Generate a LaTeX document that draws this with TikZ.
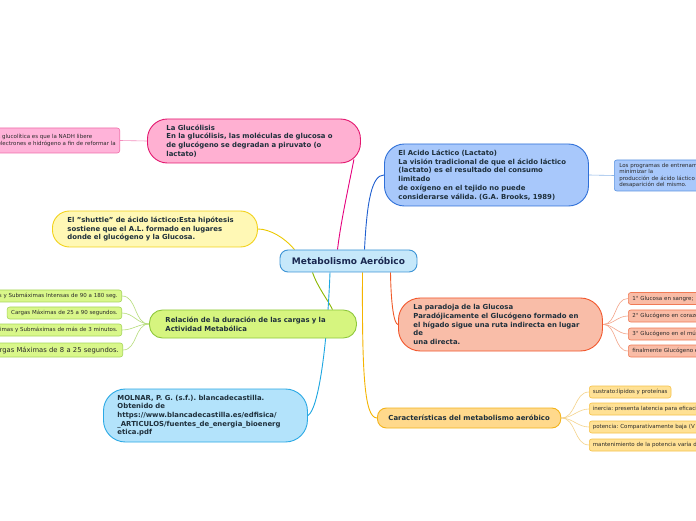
\documentclass[tikz,border=0pt]{standalone}
\usepackage{fontspec}
\setmainfont{DejaVu Sans}
\usepackage{tikz}
\usetikzlibrary{positioning, backgrounds}
\hyphenpenalty=10000
\frenchspacing

\definecolor{txtdark}{HTML}{1E2F3B}
\definecolor{txtleaf}{HTML}{2A2A2A}
\definecolor{roottxt}{HTML}{1A2850}
\definecolor{rootfill}{HTML}{C6E8FA}
\definecolor{rootdraw}{HTML}{3D94D6}
\definecolor{glucfill}{HTML}{FFB0D2}
\definecolor{glucdraw}{HTML}{E3176F}
\definecolor{nadhfill}{HTML}{FFB3D9}
\definecolor{nadhdraw}{HTML}{F06EAA}
\definecolor{shutfill}{HTML}{FFF8B5}
\definecolor{shutdraw}{HTML}{F2D21B}
\definecolor{relfill}{HTML}{D6F57F}
\definecolor{reldraw}{HTML}{8FC83C}
\definecolor{grnfill}{HTML}{D9F78A}
\definecolor{grndraw}{HTML}{A6D65A}
\definecolor{molfill}{HTML}{B3E3FB}
\definecolor{moldraw}{HTML}{2BA9E5}
\definecolor{lacfill}{HTML}{A8C8FB}
\definecolor{lacdraw}{HTML}{2F70D8}
\definecolor{progdraw}{HTML}{5B93E0}
\definecolor{parfill}{HTML}{F9BDA8}
\definecolor{pardraw}{HTML}{F2572C}
\definecolor{salfill}{HTML}{F9BCA6}
\definecolor{saldraw}{HTML}{F07A55}
\definecolor{carfill}{HTML}{FFD98C}
\definecolor{cardraw}{HTML}{F3B41B}
\definecolor{ylwfill}{HTML}{FFE195}
\definecolor{ylwdraw}{HTML}{F6C24A}

\begin{document}
\begin{tikzpicture}[x=1pt, y=1pt,
    topic/.style={draw, line width=0.9pt, align=left, text=txtdark, inner ysep=0pt, anchor=west,
      font=\bfseries\fontsize{6.9}{8.7}\selectfont},
    leaf/.style={draw, line width=0.6pt, rounded corners=2.5pt, align=left, text=txtleaf,
      inner xsep=4pt, inner ysep=0pt, minimum height=12pt, font=\fontsize{5.5}{6.6}\selectfont},
    branch/.style={line width=0.9pt},
    twig/.style={line width=0.6pt}]

    \path[use as bounding box, clip] (0,0) rectangle (696,520);

    % Central topic
    \node[draw=rootdraw, fill=rootfill, line width=0.9pt, rounded corners=8pt,
          minimum width=137pt, minimum height=22pt, text=roottxt,
          font=\bfseries\fontsize{9}{10}\selectfont] (root) at (348.5,259) {Metabolismo Aeróbico};

    % La Glucolisis
    \node[topic, draw=glucdraw, fill=glucfill, rounded corners=20pt, text width=175pt,
          inner xsep=19pt, minimum height=44pt] (gluc) at (147,379)
          {La Glucólisis\\En la glucólisis, las moléculas de glucosa o\\de glucógeno se degradan a piruvato (o\\lactato)};
    \node[leaf, draw=nadhdraw, fill=nadhfill, minimum height=25pt, anchor=east] (nadh) at (120,379.5)
          {s glucolítica es que la NADH libere\\electrones e hidrógeno a fin de reformar la};

    % Shuttle
    \node[topic, draw=shutdraw, fill=shutfill, rounded corners=17pt, text width=175pt,
          inner xsep=15pt, minimum height=36pt] (shuttle) at (52,291)
          {El "shuttle" de ácido láctico:Esta hipótesis\\sostiene que el A.L. formado en lugares\\donde el glucógeno y la Glucosa.};

    % Relacion de cargas
    \node[topic, draw=reldraw, fill=relfill, rounded corners=13pt, text width=175pt,
          inner xsep=16pt, minimum height=28pt] (rel) at (149,196)
          {Relación de la duración de las cargas y la\\Actividad Metabólica};
    \node[leaf, draw=grndraw, fill=grnfill, anchor=east, text width=170pt, align=right] (g1) at (122,224)
          {Cargas Máximas y Submáximas Intensas de 90 a 180 seg.};
    \node[leaf, draw=grndraw, fill=grnfill, anchor=east] (g2) at (122,207)
          {Cargas Máximas de 25 a 90 segundos.};
    \node[leaf, draw=grndraw, fill=grnfill, anchor=east, text width=170pt, align=right] (g3) at (122,190)
          {Cargas Máximas y Submáximas de más de 3 minutos.};
    \node[leaf, draw=grndraw, fill=grnfill, anchor=east, text width=170pt, align=right,
          minimum height=14pt, font=\fontsize{6.8}{8}\selectfont] (g4) at (123,170)
          {Cargas Máximas de 8 a 25 segundos.};

    % Molnar
    \node[topic, draw=moldraw, fill=molfill, rounded corners=22pt, text width=176pt,
          inner xsep=14pt, minimum height=53pt] (molnar) at (103,104.5)
          {MOLNAR, P. G. (s.f.). blancadecastilla.\\Obtenido de\\https://www.blancadecastilla.es/edfisica/\\\_ARTICULOS/fuentes\_de\_energia\_bioenerg\\etica.pdf};

    % Acido lactico
    \node[topic, draw=lacdraw, fill=lacfill, rounded corners=20pt, text width=176pt,
          inner xsep=14pt, minimum height=62pt] (lact) at (384,345)
          {El Acido Láctico (Lactato)\\La visión tradicional de que el ácido láctico\\(lactato) es el resultado del consumo\\limitado\\de oxígeno en el tejido no puede\\considerarse válida. (G.A. Brooks, 1989)};
    \node[leaf, draw=progdraw, fill=lacfill, anchor=west, text width=110pt, minimum height=31pt,
          inner xsep=5pt] (prog) at (614,344.5)
          {Los programas de entrenamiento\\minimizar la\\producción de ácido láctico (\\desaparición del mismo.};

    % Paradoja
    \node[topic, draw=pardraw, fill=parfill, rounded corners=22pt, text width=174pt,
          inner xsep=15pt, minimum height=53pt] (parad) at (398,195.5)
          {La paradoja de la Glucosa\\Paradójicamente el Glucógeno formado en\\el hígado sigue una ruta indirecta en lugar\\de\\una directa.};
    \node[leaf, draw=saldraw, fill=salfill, anchor=west, text width=110pt] (s1) at (628,221.5) {1° Glucosa en sangre;};
    \node[leaf, draw=saldraw, fill=salfill, anchor=west, text width=110pt] (s2) at (628,204) {2° Glucógeno en corazón};
    \node[leaf, draw=saldraw, fill=salfill, anchor=west, text width=110pt] (s3) at (628,186) {3° Glucógeno en el músculo};
    \node[leaf, draw=saldraw, fill=salfill, anchor=west, text width=110pt] (s4) at (628,169) {finalmente Glucógeno en};

    % Caracteristicas
    \node[topic, draw=cardraw, fill=carfill, rounded corners=9pt, inner xsep=11pt,
          minimum height=20pt] (caract) at (377,102) {Características del metabolismo aeróbico};
    \node[leaf, draw=ylwdraw, fill=ylwfill, anchor=west, inner xsep=3.5pt] (c1) at (589,128) {sustrato:lípidos y proteínas};
    \node[leaf, draw=ylwdraw, fill=ylwfill, anchor=west, text width=130pt, inner xsep=3.5pt] (c2) at (589,111) {inercia: presenta latencia para eficacia};
    \node[leaf, draw=ylwdraw, fill=ylwfill, anchor=west, text width=130pt, inner xsep=3.5pt] (c3) at (589,93) {potencia: Comparativamente baja (V};
    \node[leaf, draw=ylwdraw, fill=ylwfill, anchor=west, text width=130pt, inner xsep=3.5pt] (c4) at (589,75) {mantenimiento de la potencia varía de};

    % Connectors, behind the boxes
    \begin{scope}[on background layer]
        \fill[white] (0,0) rectangle (696,520);
        \draw[branch, draw={rgb,255:red,229;green,0;blue,125}] ([xshift=-11pt]root.north)
              .. controls (341,300) and (350,340) .. ([xshift=-7pt,yshift=4pt]gluc.south east);
        \draw[branch, draw={rgb,255:red,236;green,201;blue,0}] ([xshift=-54pt]root.north)
              .. controls (285,282) and (270,291) .. (shuttle.east);
        \draw[branch, draw={rgb,255:red,32;green,96;blue,208}] ([xshift=16pt]root.north)
              .. controls (367,320) and (372,345) .. (lact.west);
        \draw[branch, draw={rgb,255:red,139;green,184;blue,0}] ([xshift=-36pt]root.south)
              .. controls (318,232) and (328,220) .. ([xshift=79.5pt]rel.north);
        \draw[branch, draw={rgb,255:red,30;green,167;blue,225}] ([xshift=-18.5pt]root.south)
              .. controls (327,170) and (318,110) .. (molnar.east);
        \draw[branch, draw={rgb,255:red,245;green,180;blue,0}] ([xshift=14pt]root.south)
              .. controls (362,150) and (364,102) .. (caract.west);
        \draw[branch, draw={rgb,255:red,240;green,90;blue,40}] ([xshift=42pt]root.south)
              .. controls (391,215) and (394,196) .. (parad.west);

        \draw[twig, draw={rgb,255:red,244;green,143;blue,191}] (gluc.west) -- (nadh.east);
        \draw[twig, draw={rgb,255:red,144;green,184;blue,232}] (lact.east) -- (prog.west);
        \foreach \g in {g1,g2,g3,g4}
            \draw[twig, draw={rgb,255:red,181;green,220;blue,120}] (rel.west) to[out=180,in=0] (\g.east);
        \foreach \s in {s1,s2,s3,s4}
            \draw[twig, draw={rgb,255:red,244;green,165;blue,138}] (parad.east) to[out=0,in=180] (\s.west);
        \foreach \c in {c1,c2,c3,c4}
            \draw[twig, draw={rgb,255:red,245;green,211;blue,138}] (caract.east) to[out=0,in=180] (\c.west);
    \end{scope}

\end{tikzpicture}
\end{document}
